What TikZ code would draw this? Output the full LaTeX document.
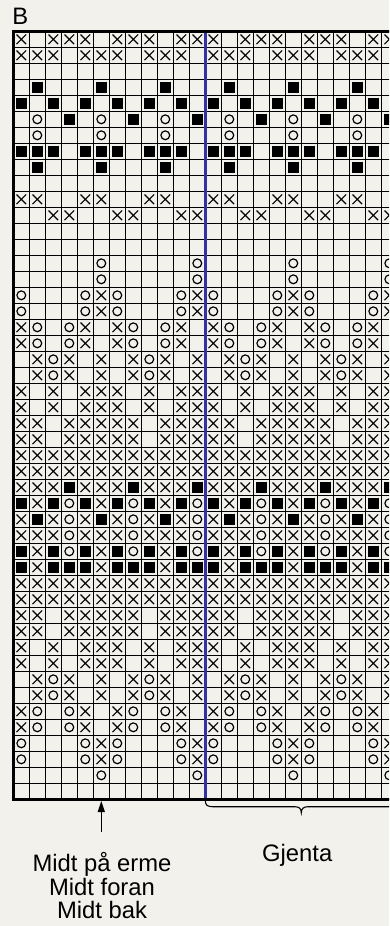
\documentclass[tikz,border=0pt]{standalone}
\usepackage{fontspec}
\setmainfont{Liberation Sans}
\usetikzlibrary{arrows.meta}
\definecolor{bg}{RGB}{243,241,236}
\definecolor{repblue}{RGB}{50,50,165}
\newcommand\ksymx[2]{\draw[symline] (#1-4.8,#2-4.8) -- (#1+4.8,#2+4.8) (#1-4.8,#2+4.8) -- (#1+4.8,#2-4.8);}
\newcommand\ksymo[2]{\draw[symline] (#1,#2) circle[radius=4.4pt];}
\newcommand\ksymb[2]{\fill (#1-5.6,#2-5.6) rectangle (#1+5.6,#2+5.6);}
\newcommand\ksymn[2]{}
\tikzset{
  gridline/.style={line width=0.9pt,draw=black},
  symline/.style={line width=1.2pt,draw=black},
  border/.style={line width=3pt,draw=black},
  label/.style={font=\fontsize{23.8}{23.8}\selectfont,inner sep=0pt},
}
\begin{document}
\begin{tikzpicture}[x=1pt,y=-1pt]
\useasboundingbox (0,0) rectangle (389,926);
\fill[bg] (0,0) rectangle (389,926);
\clip (0,0) rectangle (389,926);
% grid
\foreach \k in {0,...,24} \draw[gridline] (13.3+16*\k,31.3) -- (13.3+16*\k,799.3);
\foreach \k in {0,...,48} \draw[gridline] (13.3,31.3+16*\k) -- (397.3,31.3+16*\k);
% symbols
\foreach \rowspec [count=\r] in {
 {x,n,x,x,x,n,x,x,x,n,x,x},
 {x,x,x,n,x,x,x,n,x,x,x,n},
 {n,n,n,n,n,n,n,n,n,n,n,n},
 {n,b,n,n,n,b,n,n,n,b,n,n},
 {b,n,b,n,b,n,b,n,b,n,b,n},
 {n,o,n,b,n,o,n,b,n,o,n,b},
 {n,o,n,n,n,o,n,n,n,o,n,n},
 {b,b,b,n,b,b,b,n,b,b,b,n},
 {n,b,n,n,n,b,n,n,n,b,n,n},
 {n,n,n,n,n,n,n,n,n,n,n,n},
 {x,x,n,n,x,x,n,n,x,x,n,n},
 {n,n,x,x,n,n,x,x,n,n,x,x},
 {n,n,n,n,n,n,n,n,n,n,n,n},
 {n,n,n,n,n,n,n,n,n,n,n,n},
 {n,n,n,n,n,o,n,n,n,n,n,o},
 {n,n,n,n,n,o,n,n,n,n,n,o},
 {o,n,n,n,o,x,o,n,n,n,o,x},
 {o,n,n,n,o,x,o,n,n,n,o,x},
 {x,o,n,o,x,n,x,o,n,o,x,n},
 {x,o,n,o,x,n,x,o,n,o,x,n},
 {n,x,o,x,n,x,n,x,o,x,n,x},
 {n,x,o,x,n,x,n,x,o,x,n,x},
 {x,n,x,n,x,x,x,n,x,n,x,x},
 {x,n,x,n,x,x,x,n,x,n,x,x},
 {x,x,n,x,x,x,x,x,n,x,x,x},
 {x,x,n,x,x,x,x,x,n,x,x,x},
 {x,x,x,x,x,x,x,x,x,x,x,x},
 {x,x,x,x,x,x,x,x,x,x,x,x},
 {x,x,x,b,x,x,x,b,x,x,x,b},
 {b,x,b,o,b,x,b,o,b,x,b,o},
 {x,b,x,o,x,b,x,o,x,b,x,o},
 {x,x,x,o,x,x,x,o,x,x,x,o},
 {b,x,b,o,b,x,b,o,b,x,b,o},
 {b,x,b,b,b,x,b,b,b,x,b,b},
 {x,x,x,x,x,x,x,x,x,x,x,x},
 {x,x,x,x,x,x,x,x,x,x,x,x},
 {x,x,n,x,x,x,x,x,n,x,x,x},
 {x,x,n,x,x,x,x,x,n,x,x,x},
 {x,n,x,n,x,x,x,n,x,n,x,x},
 {x,n,x,n,x,x,x,n,x,n,x,x},
 {n,x,o,x,n,x,n,x,o,x,n,x},
 {n,x,o,x,n,x,n,x,o,x,n,x},
 {x,o,n,o,x,n,x,o,n,o,x,n},
 {x,o,n,o,x,n,x,o,n,o,x,n},
 {o,n,n,n,o,x,o,n,n,n,o,x},
 {o,n,n,n,o,x,o,n,n,n,o,x},
 {n,n,n,n,n,o,n,n,n,n,n,o},
 {n,n,n,n,n,o,n,n,n,n,n,o}
}{
 \foreach \s [count=\c] in \rowspec {
   \pgfmathsetmacro\cx{13.3+16*\c-8}
   \pgfmathsetmacro\cxx{\cx+192}
   \pgfmathsetmacro\cy{31.3+16*\r-8}
   \csname ksym\s\endcsname{\cx}{\cy}
   \csname ksym\s\endcsname{\cxx}{\cy}
 }
}
% repeat line
\draw[line width=3.2pt,draw=repblue] (205.3,31.3) -- (205.3,799.3);
% borders
\draw[border] (12,31) -- (397.3,31);
\draw[border] (13.5,29.5) -- (13.5,801);
\draw[border] (12,799.5) -- (397.3,799.5);
% labels
\node[label,anchor=base west] (chartname) at (12.2,24) {B};
\coordinate (atail) at (101.3,831.7);
\coordinate (ahead) at (101.3,801);
\draw[line width=1.2pt,-{Triangle[length=11pt,width=7pt]}] (atail) -- (ahead);
\node[label,anchor=base] (mid1) at (102,871.7) {Midt på erme};
\node[label,anchor=base] (mid2) at (102,895) {Midt foran};
\node[label,anchor=base] (mid3) at (102,918.3) {Midt bak};
\coordinate (bl) at (205.3,800.5);
\coordinate (btip) at (301.3,812.7);
\coordinate (br) at (397.3,800.5);
\draw[line width=1.1pt] (bl) .. controls (205.3,805) and (207.5,806.7) .. (212.5,806.7) -- (294.5,806.7) .. controls (299,806.7) and (301.3,808.5) .. (btip) .. controls (301.3,808.5) and (303.6,806.7) .. (308.1,806.7) -- (390.1,806.7) .. controls (395.1,806.7) and (397.3,805) .. (br);
\node[label,anchor=base] (repeatlabel) at (297.2,861.7) {Gjenta};
\end{tikzpicture}
\end{document}
